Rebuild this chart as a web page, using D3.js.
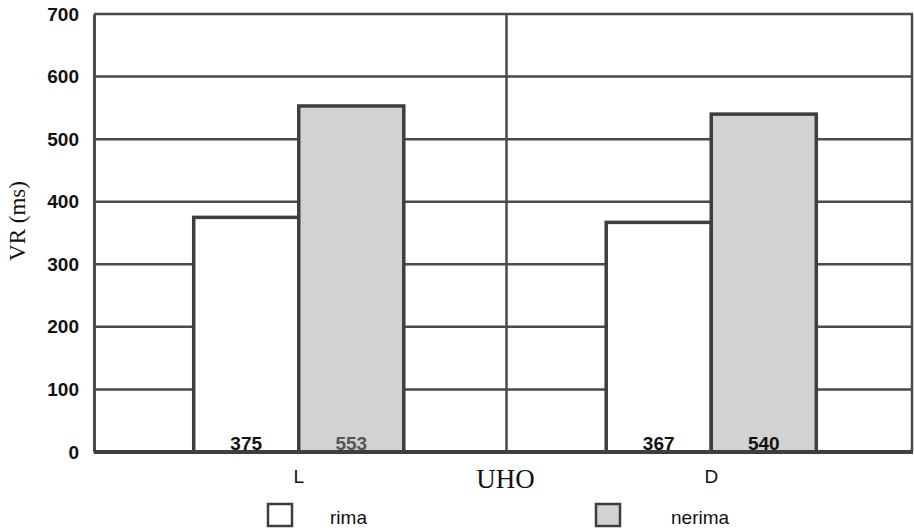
<!DOCTYPE html>
<html>
<head>
<meta charset="utf-8">
<script src="https://cdn.jsdelivr.net/npm/d3@7"></script>
<style>
  body { margin: 0; background: #fff; }
</style>
</head>
<body>
<div id="chart"></div>
<script>
const categories = ['L', 'D'];
const seriesNames = ['rima', 'nerima'];
const rimaValues = [375, 367];
const nerimaValues = [553, 540];
const yTicks = [0, 100, 200, 300, 400, 500, 600, 700];

const width = 914;
const height = 530;
const margin = { top: 14, right: 1, bottom: 78, left: 94 };
const innerW = width - margin.left - margin.right;
const innerH = height - margin.top - margin.bottom;

const fills = { rima: '#ffffff', nerima: '#d2d2d2' };
const lineColor = '#4a4a4a';

const svg = d3.select('#chart')
  .append('svg')
  .attr('width', width)
  .attr('height', height);

const g = svg.append('g')
  .attr('transform', `translate(${margin.left},${margin.top})`);

const y = d3.scaleLinear().domain([0, 700]).range([innerH, 0]);

const x0 = d3.scaleBand().domain(categories).range([0, innerW]);
const groupW = x0.bandwidth() * 0.513;
const x1 = d3.scaleBand().domain(seriesNames).range([0, groupW]);

// gridlines
g.selectAll('.grid')
  .data(yTicks.filter(d => d > 0))
  .enter()
  .append('line')
  .attr('x1', 0)
  .attr('x2', innerW)
  .attr('y1', d => y(d))
  .attr('y2', d => y(d))
  .attr('stroke', lineColor)
  .attr('stroke-width', 2.5);

// group separator and right border
g.append('line')
  .attr('x1', innerW / 2 + 3).attr('x2', innerW / 2 + 3)
  .attr('y1', 0).attr('y2', innerH)
  .attr('stroke', lineColor).attr('stroke-width', 2.5);
g.append('line')
  .attr('x1', innerW - 1).attr('x2', innerW - 1)
  .attr('y1', 0).attr('y2', innerH)
  .attr('stroke', lineColor).attr('stroke-width', 2.5);

const data = categories.map((c, i) => ({
  cat: c,
  values: [
    { key: 'rima', value: rimaValues[i] },
    { key: 'nerima', value: nerimaValues[i] }
  ]
}));

const groups = g.selectAll('.grp')
  .data(data)
  .enter()
  .append('g')
  .attr('transform', (d, i) => `translate(${x0(d.cat) + (x0.bandwidth() - groupW) / 2 + i * 3},0)`);

groups.selectAll('rect')
  .data(d => d.values)
  .enter()
  .append('rect')
  .attr('x', d => x1(d.key))
  .attr('y', d => y(d.value))
  .attr('width', x1.bandwidth())
  .attr('height', d => innerH - y(d.value))
  .attr('fill', d => fills[d.key])
  .attr('stroke', '#3e3e3e')
  .attr('stroke-width', 3.5);

groups.selectAll('.val')
  .data(d => d.values)
  .enter()
  .append('text')
  .attr('x', d => x1(d.key) + x1.bandwidth() / 2)
  .attr('y', innerH - 2)
  .attr('text-anchor', 'middle')
  .style('font-family', 'Liberation Sans, Arial, sans-serif')
  .style('font-size', '19px')
  .style('font-weight', 'bold')
  .style('fill', d => d.key === 'nerima' && d.value > 545 ? '#555' : '#111')
  .text(d => d.value);

// y axis
const yAxis = g.append('g')
  .call(d3.axisLeft(y).tickValues(yTicks).tickSize(0).tickPadding(15));
yAxis.select('.domain').attr('stroke', lineColor).attr('stroke-width', 3);
yAxis.selectAll('text')
  .style('font-family', 'Liberation Sans, Arial, sans-serif')
  .style('font-size', '19px')
  .style('font-weight', 'bold')
  .style('fill', '#111');

// baseline
g.append('line')
  .attr('x1', 0).attr('x2', innerW)
  .attr('y1', innerH).attr('y2', innerH)
  .attr('stroke', '#3e3e3e').attr('stroke-width', 4);

// category labels
g.selectAll('.cat')
  .data(categories)
  .enter()
  .append('text')
  .attr('x', (d, i) => x0(d) + x0.bandwidth() / 2 + i * 3)
  .attr('y', innerH + 31)
  .attr('text-anchor', 'middle')
  .style('font-family', 'Liberation Sans, Arial, sans-serif')
  .style('font-size', '19px')
  .style('fill', '#111')
  .text(d => d);

// x title
g.append('text')
  .attr('x', innerW / 2 + 2)
  .attr('y', innerH + 36)
  .attr('text-anchor', 'middle')
  .style('font-family', 'Liberation Serif, Times New Roman, serif')
  .style('font-size', '27px')
  .style('fill', '#111')
  .text('UHO');

// y title
svg.append('text')
  .attr('transform', `translate(25,${margin.top + innerH / 2 - 12}) rotate(-90)`)
  .attr('text-anchor', 'middle')
  .style('font-family', 'Liberation Serif, Times New Roman, serif')
  .style('font-size', '23px')
  .style('fill', '#111')
  .text('VR (ms)');

// legend
const legendX = [268, 596];
const legendTextX = [330, 671];
const legend = svg.selectAll('.leg')
  .data(seriesNames)
  .enter()
  .append('g');
legend.append('rect')
  .attr('x', (d, i) => legendX[i])
  .attr('y', 504)
  .attr('width', 24)
  .attr('height', 22)
  .attr('fill', d => fills[d])
  .attr('stroke', '#3e3e3e')
  .attr('stroke-width', 2.5);
legend.append('text')
  .attr('x', (d, i) => legendTextX[i])
  .attr('y', 524)
  .style('font-family', 'Liberation Sans, Arial, sans-serif')
  .style('font-size', '19px')
  .style('fill', '#111')
  .text(d => d);
</script>
</body>
</html>
